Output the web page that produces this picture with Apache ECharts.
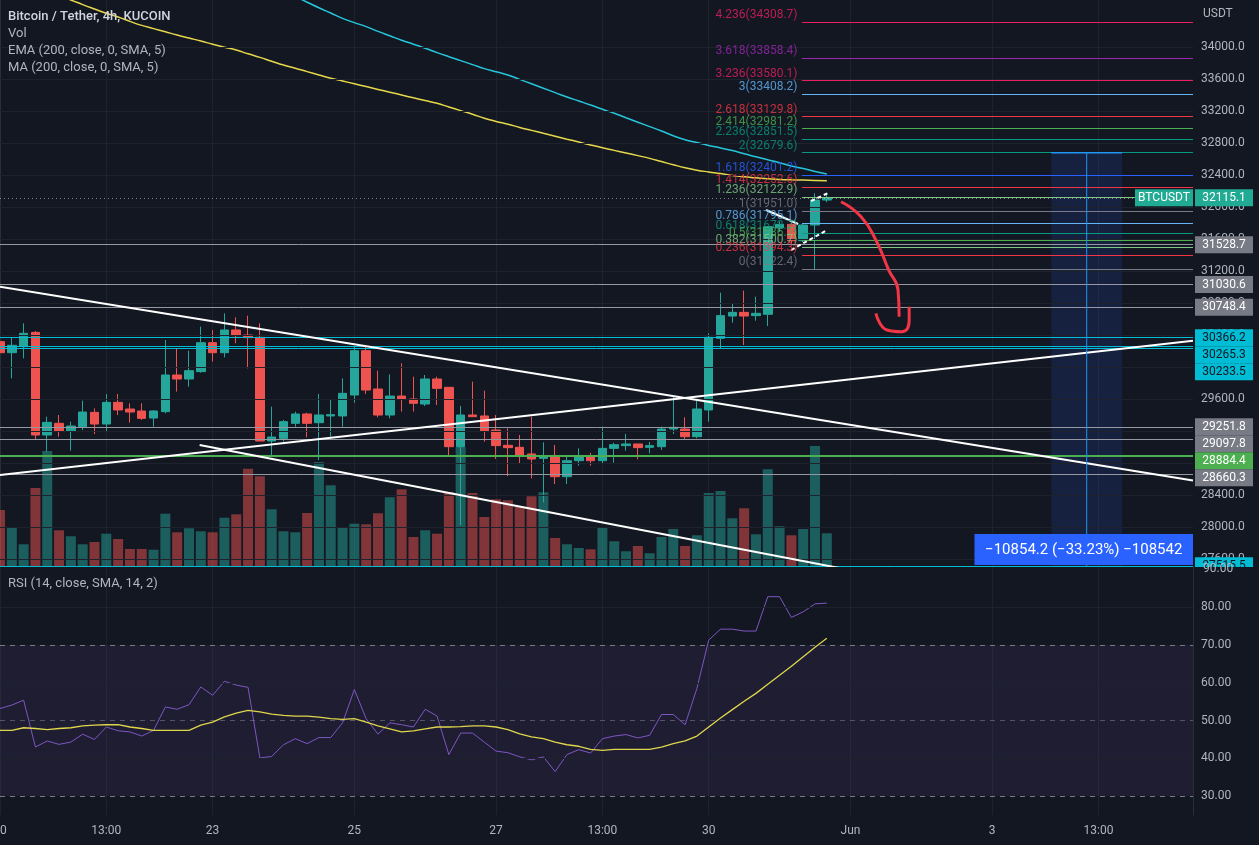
<!DOCTYPE html>
<html><head><meta charset="utf-8">
<script src="https://cdn.jsdelivr.net/npm/echarts@6/dist/echarts.min.js"></script>
<style>html,body{margin:0;padding:0;background:#131722;overflow:hidden}#c{width:1259px;height:845px}</style>
</head><body><div id="c"></div>
<script>
// ---------- DATA ----------
// candles: [open, close, low, high]
const candles = [
[30317,30179,30150,30330],[30179,30271,29858,30371],[30254,30421,30108,30546],[30433,29150,29096,30450],
[29150,29308,28942,29379],[29296,29200,29129,29400],[29204,29262,28954,29317],[29254,29437,29212,29579],
[29433,29287,29162,29483],[29287,29558,29192,29663],[29558,29463,29400,29663],[29475,29437,29304,29546],
[29450,29358,29338,29546],[29362,29450,29254,29462],[29442,29900,29421,30337],[29900,29850,29692,30233],
[29850,29954,29754,30204],[29942,30304,29929,30504],[30304,30179,30067,30462],[30179,30463,30121,30671],
[30463,30392,30296,30621],[30400,30367,29983,30642],[30371,29075,29075,30546],[29075,29125,28900,29504],
[29108,29317,29067,29338],[29296,29413,29254,29442],[29413,29296,29121,29429],[29304,29400,28838,29663],
[29388,29404,29129,29600],[29388,29671,29254,29858],[29650,30204,29554,30263],[30204,29712,29663,30254],
[29725,29400,29371,29954],[29400,29637,29358,29908],[29637,29596,29442,30046],[29600,29546,29442,29879],
[29537,29850,29512,29900],[29850,29733,29525,29879],[29746,29004,28900,29746],[29004,29400,28025,29513],
[29400,29379,29379,29817],[29388,29200,29067,29704],[29212,29017,28850,29400],[29021,28992,28637,29233],
[28996,28900,28788,29150],[28913,28850,28608,29379],[28858,28888,28308,29058],[28892,28629,28537,29025],
[28629,28829,28537,28879],[28829,28892,28767,28983],[28892,28829,28767,28929],[28829,28983,28788,29254],
[28983,29029,28804,29054],[29017,29038,28954,29163],[29038,28992,28846,29038],[28996,29017,28921,29063],
[29004,29225,28963,29254],[29225,29246,29163,29629],[29225,29129,29096,29371],[29129,29475,29108,29588],
[29463,30371,29317,30421],[30358,30642,30233,30929],[30637,30683,30554,30787],[30683,30637,30275,30954],
[30642,30671,30579,30879],[30659,31754,30512,31760],[31740,31783,31690,31820],[31783,31579,31540,31837],
[31579,31775,31560,31790],[31775,32087,31222,32171],[32087,32115.1,32060,32175]
];
const volumes = [560,390,217,780,1150,357,297,217,240,323,270,170,170,163,523,337,377,347,337,483,517,973,897,567,347,337,530,1040,807,380,423,417,527,687,767,290,357,323,740,1190,730,490,667,657,590,697,737,280,217,180,167,380,247,147,200,127,290,370,200,307,730,750,477,577,317,967,397,307,370,1200,327];
const ema200 = [null,null,null,null,null,null,null,null,null,null,null,null,null,null,null,null,null,null,
35120,35050,34980,34905,34830,34755,34680,34630,34560,34490,34425,34358,34305,34255,34195,34140,34085,34035,33985,33930,33879,33830,33780,33730,33690,33650,33595,33540,33485,33430,33375,33325,33275,33222,33171,33115,33060,33005,32950,32890,32840,32805,32770,32738,32705,32665,32628,32590,32553,32512,32480,32445,32412];
const ma200 = [34860,34815,34770,34725,34680,34635,34587,34530,34475,34421,34375,34320,34270,34230,34190,34150,34112,34075,34035,33998,33962,33915,33870,33822,33775,33735,33692,33650,33609,33575,33540,33505,33470,33435,33400,33365,33330,33296,33250,33205,33160,33110,33070,33035,32995,32958,32921,32885,32848,32812,32775,32740,32708,32675,32642,32608,32568,32528,32490,32460,32438,32418,32395,32378,32365,32352,32345,32340,32336,32332,32329];
const rsi = [53.2,54.1,55.4,43.0,44.6,43.7,44.3,46.4,45.0,48.3,47.3,47.0,45.9,47.4,53.6,53.0,54.2,58.9,56.7,60.4,59.4,58.8,40.1,40.5,43.6,45.2,43.9,45.5,45.5,49.4,58.2,50.5,46.4,49.4,48.9,48.3,53.0,51.2,41.0,46.7,46.7,44.3,41.9,41.5,40.4,39.6,40.4,36.5,41.0,42.3,41.4,45.2,45.9,46.3,45.4,46.1,51.6,51.6,48.9,58.5,71.3,74.2,74.2,73.7,73.7,82.8,82.8,77.3,78.8,80.9,81.1];
const rsiMa = [47.4,47.4,48.1,47.9,47.6,47.9,48.1,48.6,48.8,48.9,48.9,48.3,47.9,47.4,47.4,47.4,47.4,48.8,49.6,51.0,52.0,52.7,52.3,51.7,51.4,51.2,51.2,50.9,50.5,50.3,50.5,49.6,48.6,47.8,47.0,47.3,47.8,48.3,48.3,48.4,48.6,48.6,48.3,47.6,46.5,45.7,45.2,44.3,43.6,43.2,42.4,42.1,42.4,42.4,42.4,42.4,43.0,43.9,44.6,45.9,48.3,50.7,52.9,55.1,57.2,59.6,62.0,64.4,66.9,69.4,71.8];
const barCount = 102;
const tickIndex = [0,9,18,30,42,51,60,72,84,93];
const tickText = ['20','13:00','23','25','27','13:00','30','Jun','3','13:00'];
const priceTicks = [27600,28000,28400,28800,29200,29600,30000,30400,30800,31200,31600,32000,32400,32800,33200,33600,34000];
const rsiTicks = [30,40,50,60,70,80];
const fibRatios = ['4.236','3.618','3.236','3','2.618','2.414','2.236','2','1.618','1.414','1.236','1','0.786','0.618','0.5','0.382','0.236','0'];
const fibPrices = [34308.7,33858.4,33580.1,33408.2,33129.8,32981.2,32851.5,32679.6,32401.2,32252.6,32122.9,31951.0,31795.1,31672.7,31586.7,31500.7,31394.3,31222.4];
const levelPrices = [31528.7,31030.6,30748.4,30366.2,30265.3,30233.5,29251.8,29097.8,28884.4,28660.3,27515.5];
const levelKind = ['gray','gray','gray','cyan','cyan','cyan','gray','gray','green','gray','cyan'];
const lastPrice = 32115.1;
const trendLines = [ [[0,31004],[101,28580]], [[0,28650],[101,30328]], [[16.9,29025],[78,27290]] ];
const wedgeSolid = [[64.86,31962],[67.57,31787]];
const wedgeDash1 = [[66.97,31462],[70.02,31712]];
const wedgeDash2 = [[68.67,32075],[70.1,32175]];
const arrowShaft = [[71.2,32066],[72.9,31879],[74.15,31587],[75.24,31212],[76.03,30962],[76.12,30629]];
const arrowHook = [[74.15,30671],[75.09,30462],[76.34,30441],[76.97,30587],[76.97,30754]];
const rangeBox = {x0:89, x1:95, xMid:92, top:32679.6};
const rangeText = '\u221210854.2 (\u221233.23%) \u2212108542';

// ---------- STYLE ----------
const BG = '#131722', TXT = '#b2b5be', GRIDC = '#1e222d';
const UP = '#26a69a', DN = '#ef5350';
const fibColors = ['#e91e63','#9c27b0','#e91e63','#64b5f6','#f23645','#4caf50','#089981','#089981','#2962ff','#f23645','#81c784','#787b86','#64b5f6','#089981','#4caf50','#81c784','#f23645','#787b86'];
const kindColor = {gray:'#9598a1', cyan:'#00bcd4', green:'#4caf50'};
const kindTag = {gray:['#787b86','#ffffff'], cyan:['#00bcd4','#131722'], green:['#4caf50','#ffffff']};
const FONT = 'Roboto, "Noto Sans", sans-serif';
const PMIN = 27512.5, PMAX = 34587.5;

const cats = Array.from({length: barCount}, (_, i) => String(i));
const tickSet = new Set(tickIndex);
const labelOf = {}; tickIndex.forEach((t, k) => labelOf[t] = tickText[k]);

const hLines = [];
priceTicks.forEach(v => hLines.push({yAxis: v, lineStyle: {color: GRIDC, width: 1, type: 'solid'}}));
levelPrices.forEach((v, i) => hLines.push({yAxis: v, lineStyle: {color: kindColor[levelKind[i]], width: levelKind[i] === 'green' ? 2 : 1, type: 'solid'}}));
hLines.push({yAxis: lastPrice, lineStyle: {color: 'rgba(178,181,190,0.7)', width: 1, type: [1, 3]}});

const fibLineData = fibPrices.map((p, i) => [{coord: [67.9, p], lineStyle: {color: fibColors[i], width: 1, type: 'solid'}}, {coord: [101, p]}]);

const lineSeries = (data, color, width, type, smooth) => ({
  type: 'line', xAxisIndex: 2, yAxisIndex: 0, data, symbol: 'none', silent: true, animation: false,
  smooth: !!smooth, lineStyle: {color, width, type: type || 'solid'}, z: 6
});

const option = {
  backgroundColor: BG,
  animation: false,
  textStyle: {fontFamily: FONT},
  grid: [
    {left: 0, right: 66, top: 0, height: 566, containLabel: false, outerBoundsMode: 'none'},
    {left: 0, right: 66, top: 567, height: 248, containLabel: false, outerBoundsMode: 'none'}
  ],
  xAxis: [
    {type: 'category', gridIndex: 0, data: cats, boundaryGap: false,
     axisLine: {show: true, lineStyle: {color: '#2a2e39'}}, axisTick: {show: false}, axisLabel: {show: false},
     splitLine: {show: true, interval: (i) => tickSet.has(i), lineStyle: {color: GRIDC}}},
    {type: 'category', gridIndex: 1, data: cats, boundaryGap: false,
     axisLine: {show: false}, axisTick: {show: false},
     axisLabel: {show: true, interval: (i) => tickSet.has(i), formatter: (v, i) => labelOf[i] || '', color: TXT, fontSize: 12, margin: 10, fontFamily: FONT, hideOverlap: false},
     splitLine: {show: true, interval: (i) => tickSet.has(i), lineStyle: {color: GRIDC}}},
    {type: 'value', gridIndex: 0, min: 0, max: barCount - 1, show: false}
  ],
  yAxis: [
    {type: 'value', gridIndex: 0, position: 'right', min: PMIN, max: PMAX, scale: true,
     axisLine: {show: true, lineStyle: {color: '#2a2e39'}}, axisTick: {show: false},
     splitLine: {show: false},
     axisLabel: {customValues: priceTicks, formatter: v => v.toFixed(1), color: TXT, fontSize: 12, margin: 8, fontFamily: FONT}},
    {type: 'value', gridIndex: 0, min: 0, max: 5660, show: false},
    {type: 'value', gridIndex: 1, position: 'right', min: 25, max: 90.66,
     axisLine: {show: true, lineStyle: {color: '#2a2e39'}}, axisTick: {show: false}, splitLine: {show: false},
     axisLabel: {customValues: rsiTicks, formatter: v => v.toFixed(2), color: TXT, fontSize: 12, margin: 8, fontFamily: FONT}}
  ],
  series: [
    {type: 'bar', name: 'vol', xAxisIndex: 0, yAxisIndex: 1, barWidth: 10, silent: true, z: 1,
     data: volumes.map((v, i) => ({value: v, itemStyle: {color: candles[i][1] >= candles[i][0] ? 'rgba(38,166,154,0.5)' : 'rgba(239,83,80,0.5)'}}))},
    {type: 'candlestick', name: 'BTCUSDT', xAxisIndex: 0, yAxisIndex: 0, data: candles, barWidth: 9, z: 4,
     itemStyle: {color: UP, color0: DN, borderColor: UP, borderColor0: DN, borderWidth: 1},
     markLine: {silent: true, symbol: ['none', 'none'], label: {show: false}, animation: false, data: hLines}},
    {type: 'line', name: 'EMA', xAxisIndex: 0, yAxisIndex: 0, data: ema200, symbol: 'none', smooth: true, lineStyle: {color: '#26c6da', width: 1.5}, z: 3},
    {type: 'line', name: 'MA', xAxisIndex: 0, yAxisIndex: 0, data: ma200, symbol: 'none', smooth: true, lineStyle: {color: '#e6d84a', width: 1.5}, z: 3},
    lineSeries(trendLines[0], '#ffffff', 2),
    lineSeries(trendLines[1], '#ffffff', 2),
    lineSeries(trendLines[2], '#ffffff', 2),
    lineSeries(wedgeSolid, '#ffffff', 2),
    lineSeries(wedgeDash1, '#ffffff', 2, [4, 3]),
    lineSeries(wedgeDash2, '#ffffff', 2, [4, 3]),
    lineSeries(arrowShaft, '#f23645', 3, 'solid', true),
    lineSeries(arrowHook, '#f23645', 3, 'solid', true),
    Object.assign(lineSeries([[rangeBox.xMid, rangeBox.top], [rangeBox.xMid, PMIN]], '#2196f3', 1), {
      markArea: {silent: true, itemStyle: {color: 'rgba(41,98,255,0.13)'}, data: [[{coord: [rangeBox.x0, rangeBox.top]}, {coord: [rangeBox.x1, PMIN]}]]}}),
    lineSeries([[rangeBox.x0, rangeBox.top], [rangeBox.x1, rangeBox.top]], '#2196f3', 1.5),
    {type: 'scatter', xAxisIndex: 2, yAxisIndex: 0, symbolSize: 0, silent: true, z: 8,
     data: fibPrices.map((p, i) => ({value: [67.6, p], label: {color: fibColors[i]}})),
     label: {show: true, position: 'left', distance: 1, offset: [0, -7], fontSize: 12, fontFamily: FONT,
       formatter: (pr) => fibRatios[pr.dataIndex] + '(' + fibPrices[pr.dataIndex].toFixed(1) + ')'},
     markLine: {silent: true, symbol: ['none', 'none'], label: {show: false}, animation: false, data: fibLineData}},
    {type: 'line', name: 'RSI', xAxisIndex: 1, yAxisIndex: 2, data: rsi, symbol: 'none', lineStyle: {color: '#7e57c2', width: 1}, z: 4,
     markArea: {silent: true, itemStyle: {color: 'rgba(126,87,194,0.10)'}, data: [[{yAxis: 70}, {yAxis: 30}]]},
     markLine: {silent: true, symbol: ['none', 'none'], label: {show: false}, animation: false, data: [
       {yAxis: 80, lineStyle: {color: GRIDC, type: 'solid', width: 1}},
       {yAxis: 60, lineStyle: {color: GRIDC, type: 'solid', width: 1}},
       {yAxis: 40, lineStyle: {color: GRIDC, type: 'solid', width: 1}},
       {yAxis: 70, lineStyle: {color: '#787b86', type: [5, 5], width: 1}},
       {yAxis: 50, lineStyle: {color: 'rgba(120,123,134,0.6)', type: [5, 5], width: 1}},
       {yAxis: 30, lineStyle: {color: '#787b86', type: [5, 5], width: 1}}
     ]}},
    {type: 'line', name: 'RSI MA', xAxisIndex: 1, yAxisIndex: 2, data: rsiMa, symbol: 'none', lineStyle: {color: '#e0d64c', width: 1.3}, z: 5}
  ]
};

const chart = echarts.init(document.getElementById('c'), null, {renderer: 'canvas'});
chart.setOption(option);

// ---------- overlay texts & price tags ----------
const yOf = p => chart.convertToPixel({yAxisIndex: 0}, p);
const xOf = i => chart.convertToPixel({xAxisIndex: 2}, i);
const g = [];
const txt = (x, y, s, color, size, extra) => g.push(Object.assign({type: 'text', x, y, z: 100, silent: true,
  style: Object.assign({text: s, fill: color, fontSize: size, fontFamily: FONT, textVerticalAlign: 'middle'}, extra || {})}));
const rect = (x, y, w, h, fill) => g.push({type: 'rect', z: 99, silent: true, shape: {x, y, width: w, height: h}, style: {fill}});

txt(8, 17, 'Bitcoin / Tether, 4h, KUCOIN', '#d1d4dc', 13, {fontWeight: 500});
txt(8, 34, 'Vol', TXT, 13);
txt(8, 51, 'EMA (200, close, 0, SMA, 5)', TXT, 13);
txt(8, 68, 'MA (200, close, 0, SMA, 5)', TXT, 13);
txt(8, 584, 'RSI (14, close, SMA, 14, 2)', TXT, 13);
txt(1203, 14, 'USDT', TXT, 12);

const axL = xOf(barCount - 1) + 2;
// last price tag
const yl = yOf(lastPrice);
rect(axL - 60, yl - 8.5, 58, 17, '#22ab94');
txt(axL - 31, yl, 'BTCUSDT', '#ffffff', 12, {textAlign: 'center'});
rect(axL, yl - 8.5, 58, 17, '#22ab94');
txt(axL + 29, yl, lastPrice.toFixed(1), '#ffffff', 12, {textAlign: 'center'});

// stacked level tags
const order = levelPrices.map((p, i) => i).sort((a, b) => levelPrices[b] - levelPrices[a]);
let prev = -1e9;
const bottomPane = yOf(PMIN);
order.forEach(i => {
  let y = Math.max(yOf(levelPrices[i]), prev + 17);
  prev = y;
  const [bg, fg] = kindTag[levelKind[i]];
  rect(axL, y - 8.5, 58, 17, bg);
  txt(axL + 29, y, levelPrices[i].toFixed(1), fg, 12, {textAlign: 'center'});
});
// cover below main pane on axis and draw RSI top label
rect(axL - 1, bottomPane + 1, 66, 10, BG);
txt(axL + 8, chart.convertToPixel({yAxisIndex: 2}, 90), '90.00', TXT, 12);

// range measurement label
const bx0 = xOf(82.5), bx1 = xOf(barCount - 1);
rect(bx0, bottomPane - 32, bx1 - bx0, 31, '#2962ff');
txt((bx0 + bx1) / 2, bottomPane - 16, rangeText, '#ffffff', 15, {textAlign: 'center'});

chart.setOption({graphic: g});
</script>
</body></html>
